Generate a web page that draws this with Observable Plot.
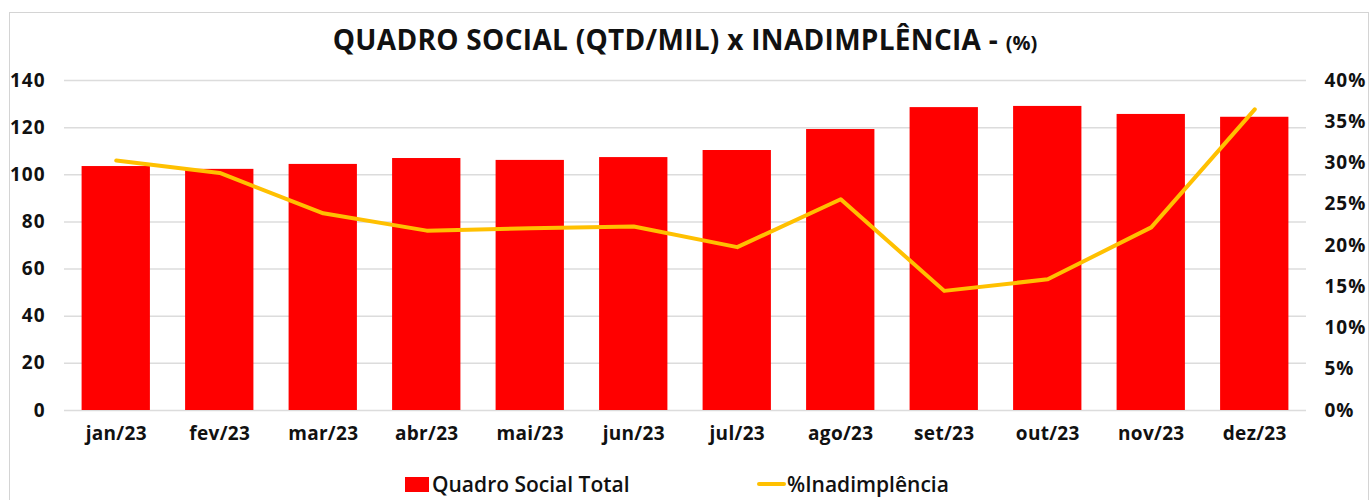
<!DOCTYPE html>
<html>
<head>
<meta charset="utf-8">
<script src="https://cdn.jsdelivr.net/npm/d3@7"></script>
<script src="https://cdn.jsdelivr.net/npm/@observablehq/plot@0.6"></script>
<style>
  html, body { margin: 0; padding: 0; background: #fff; }
  #wrap { position: relative; width: 1370px; height: 500px; overflow: hidden; font-family: "Open Sans", sans-serif; color: #111; }
  #frame { position: absolute; left: 9px; top: 12px; width: 1360px; height: 500px; border: 1px solid #d4d4d4; box-sizing: border-box; }
  #title { position: absolute; left: 0; width: 1370px; top: 20px; text-align: center; font-weight: 700; font-size: 28px; letter-spacing: 0.3px; color: #111; }
  #title small { font-size: 20px; letter-spacing: 0; }
  #chart { position: absolute; left: 0; top: 0; }
  #chart svg text { font-family: "Open Sans", sans-serif; font-weight: 700; fill: #111; }
  #chart svg g[aria-label="y-axis tick label"] text { letter-spacing: 1px; }
  #chart svg g[aria-label="x-axis tick label"] text { letter-spacing: 0.3px; }
  #legend { position: absolute; top: 470px; left: 0; width: 1370px; height: 28px; font-weight: 600; font-size: 21px; }
  .lg { position: absolute; top: 0; display: flex; align-items: center; height: 28px; }
  .sw-bar { width: 24px; height: 15px; background: #ff0000; margin-right: 3px; }
  .sw-line { width: 29px; height: 4px; background: #ffc000; margin-right: 1px; border-radius: 2px; }
</style>
</head>
<body>
<div id="wrap">
  <div id="frame"></div>
  <div id="title">QUADRO SOCIAL (QTD/MIL) x INADIMPLÊNCIA - <small>(%)</small></div>
  <div id="chart"></div>
  <div id="legend">
    <div class="lg" style="left:405px;"><div class="sw-bar"></div><span>Quadro Social Total</span></div>
    <div class="lg" style="left:757px;"><div class="sw-line"></div><span>%Inadimplência</span></div>
  </div>
</div>
<script>
const months = ["jan/23","fev/23","mar/23","abr/23","mai/23","jun/23","jul/23","ago/23","set/23","out/23","nov/23","dez/23"];
const quadroSocial = [103.5, 102.3, 104.4, 106.9, 106.1, 107.3, 110.3, 119.2, 128.5, 129.0, 125.6, 124.4];
const inadimplencia = [30.3, 28.8, 23.9, 21.8, 22.1, 22.3, 19.8, 25.6, 14.5, 15.9, 22.2, 36.5];
const leftTicks = [0, 20, 40, 60, 80, 100, 120, 140];
const rightTicks = [0, 5, 10, 15, 20, 25, 30, 35, 40];

const leftMax = 140, rightMax = 40;
const toLeft = p => p * leftMax / rightMax;

const bars = months.map((m, i) => ({month: m, value: quadroSocial[i]}));
const line = months.map((m, i) => ({month: m, value: toLeft(inadimplencia[i])}));

const chart = Plot.plot({
  width: 1370,
  height: 460,
  marginLeft: 64,
  marginRight: 64,
  marginTop: 80,
  marginBottom: 50,
  style: {fontSize: "19px", background: "transparent"},
  x: {domain: months, paddingInner: 0.34, paddingOuter: 0.17, round: false, label: null},
  y: {domain: [0, leftMax], label: null},
  marks: [
    Plot.ruleY(leftTicks, {stroke: "#dcdcdc", strokeWidth: 1.5}),
    Plot.barY(bars, {x: "month", y: "value", fill: "#ff0000"}),
    Plot.line(line, {x: "month", y: "value", stroke: "#ffc000", strokeWidth: 4, curve: "linear", strokeLinejoin: "round", strokeLinecap: "round"}),
    Plot.axisX({tickSize: 0, tickPadding: 16, fontSize: 19, fontWeight: 700, label: null}),
    Plot.axisY(leftTicks, {anchor: "left", tickSize: 0, tickPadding: 19, fontSize: 19, fontWeight: 700, label: null}),
    Plot.axisY(rightTicks.map(toLeft), {anchor: "right", tickSize: 0, tickPadding: 18, fontSize: 19, fontWeight: 700, label: null,
      tickFormat: d => Math.round(d * rightMax / leftMax) + "%"})
  ]
});
document.getElementById("chart").appendChild(chart);
</script>
</body>
</html>
